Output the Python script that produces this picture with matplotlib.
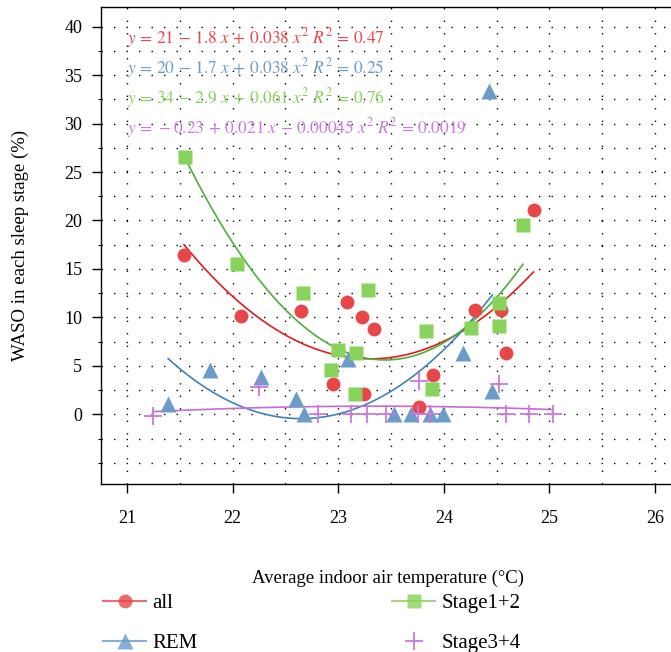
import numpy as np
import matplotlib.pyplot as plt
from matplotlib.ticker import MultipleLocator
from matplotlib.lines import Line2D

plt.rcParams['font.family'] = ['Liberation Serif', 'DejaVu Serif']
plt.rcParams['mathtext.fontset'] = 'stix'

# WASO per sleep stage vs. average indoor air temperature
all_x = [21.54, 22.08, 22.65, 22.95, 23.08, 23.23, 23.24, 23.34, 23.77, 23.90, 24.30, 24.54, 24.59, 24.85]
all_y = [16.4, 10.1, 10.7, 3.1, 11.6, 10.0, 2.1, 8.8, 0.8, 4.1, 10.8, 10.8, 6.3, 21.1]

rem_x = [21.39, 21.79, 22.27, 22.60, 22.68, 23.09, 23.53, 23.69, 23.87, 23.99, 24.18, 24.43, 24.46]
rem_y = [1.1, 4.6, 3.8, 1.6, 0.0, 5.7, 0.0, 0.0, 0.0, 0.0, 6.3, 33.4, 2.4]

s12_x = [21.55, 22.04, 22.67, 22.93, 23.00, 23.16, 23.17, 23.28, 23.83, 23.89, 24.26, 24.52, 24.52, 24.75]
s12_y = [26.6, 15.5, 12.5, 4.6, 6.6, 2.1, 6.3, 12.8, 8.6, 2.6, 8.9, 9.1, 11.5, 19.5]

s34_x = [21.25, 22.25, 22.81, 23.12, 23.27, 23.45, 23.76, 23.77, 23.87, 24.52, 24.59, 24.81, 25.03]
s34_y = [-0.2, 2.8, 0.0, 0.0, 0.0, 0.0, 0.0, 3.4, 0.0, 3.1, 0.0, 0.0, 0.0]

equations = [
    r'$y\,=\,21\,-\,1.8\ x\,+\,0.038\ x^2\ R^2\,=\,0.47$',
    r'$y\,=\,20\,-\,1.7\ x\,+\,0.038\ x^2\ R^2\,=\,0.25$',
    r'$y\,=\,34\,-\,2.9\ x\,+\,0.061\ x^2\ R^2\,=\,0.76$',
    r'$y\,=\,-0.23\,+\,0.021\ x\,-\,0.00045\ x^2\ R^2\,=\,0.0019$',
]

series = [
    ('all', all_x, all_y, 'o', 10, '#E8474A', '#E41A1C', '#E8474A'),
    ('REM', rem_x, rem_y, '^', 12, '#6B9BC8', '#3F80C0', '#6B9BC8'),
    ('Stage1+2', s12_x, s12_y, 's', 9.5, '#87D35C', '#4CAF3A', '#87D35C'),
    ('Stage3+4', s34_x, s34_y, '+', 13, '#CC77DD', '#C66BD6', '#CC77DD'),
]

fig = plt.figure(figsize=(6.71, 6.52), dpi=100)
ax = fig.add_axes([101 / 671, 168 / 652, 574 / 671, 477.3 / 652])

handles = []
for (name, xs, ys, mk, ms, pc, lc, tc) in series:
    xs = np.array(xs)
    ys = np.array(ys)
    coef = np.polyfit(xs, ys, 2)
    xx = np.linspace(xs.min(), xs.max(), 200)
    ax.plot(xx, np.polyval(coef, xx), color=lc, lw=1.2, zorder=3)
    if mk == '+':
        ax.plot(xs, ys, ls='none', marker=mk, ms=ms, mew=1.3, color=pc, zorder=4)
        handles.append(Line2D([], [], ls='none', marker=mk, ms=ms, mew=1.3, color=pc, label=name))
    else:
        ax.plot(xs, ys, ls='none', marker=mk, ms=ms, mec='none', color=pc, zorder=4)
        handles.append(Line2D([], [], color=pc, alpha=0.8, lw=1.5, marker=mk, ms=ms,
                              mec='none', mfc=pc, label=name))

for i, (eq, s) in enumerate(zip(equations, series)):
    ax.text(21.0, 38.8 - i * 3.1, eq, color=s[7], fontsize=12.5, ha='left', va='center')

ax.set_xlim(20.754, 26.19)
ax.set_ylim(-7.19, 42.06)
ax.xaxis.set_major_locator(MultipleLocator(1))
ax.xaxis.set_minor_locator(MultipleLocator(0.5))
ax.set_yticks(np.arange(0, 41, 5))
ax.yaxis.set_minor_locator(MultipleLocator(2.5))
ax.grid(which='both', color='black', ls=(0, (1, 8)), lw=1.0)
ax.set_axisbelow(True)
ax.spines['right'].set_visible(False)
for sp in ['left', 'bottom', 'top']:
    ax.spines[sp].set_linewidth(1.0)

ax.tick_params(which='major', direction='out', length=6.5, width=1.0, labelsize=13, pad=7)
ax.tick_params(which='minor', direction='out', length=2, width=0.8)
ax.tick_params(axis='x', which='minor', length=0)
ax.tick_params(axis='x', pad=12)

ax.set_xlabel('Average indoor air temperature (°C)', fontsize=13.5, labelpad=31)
ax.set_ylabel('WASO in each sleep stage (%)', fontsize=13.5, labelpad=25)

fig.legend(handles=handles, ncol=2, loc='lower left', bbox_to_anchor=(0.125, -0.03),
           frameon=False, fontsize=15, handlelength=2.1, handletextpad=0.3,
           columnspacing=9.3, labelspacing=0.95)

fig.savefig('out.png', dpi=100)
